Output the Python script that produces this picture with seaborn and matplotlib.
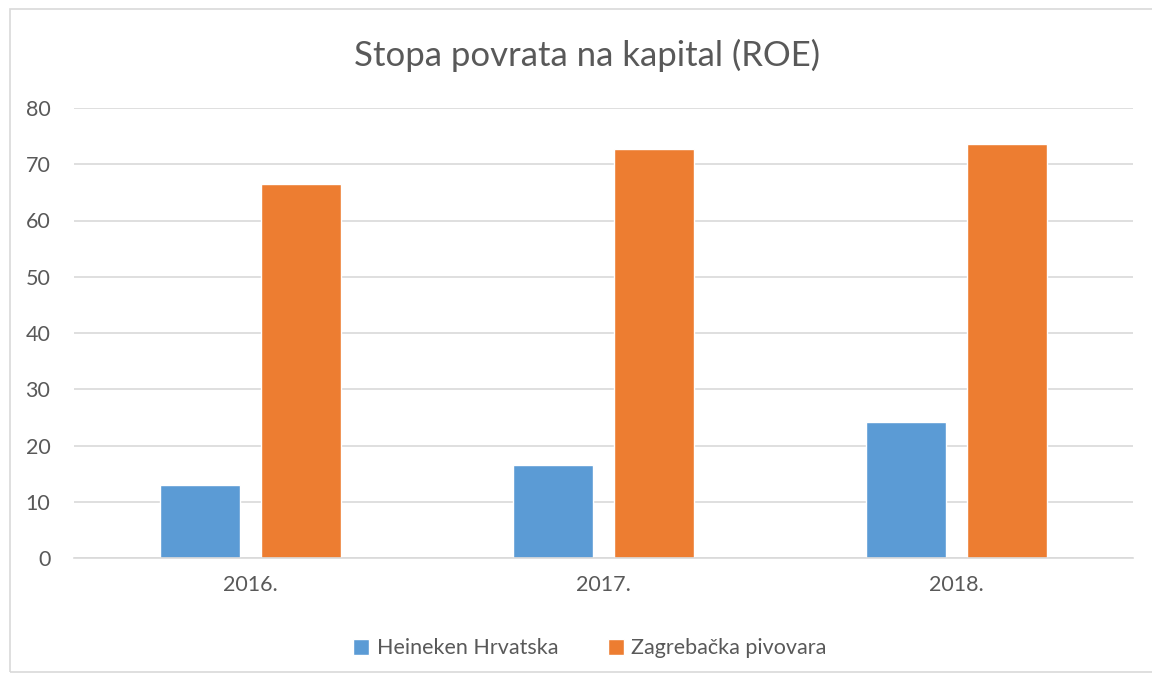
import pandas as pd
import matplotlib.pyplot as plt
import seaborn as sns
from matplotlib.patches import Rectangle

# data
years = ["2016.", "2017.", "2018."]
heineken = [13.0, 16.5, 24.2]
zagrebacka = [66.5, 72.7, 73.6]
series_names = ["Heineken Hrvatska", "Zagrebačka pivovara"]

df = pd.DataFrame({
    "godina": years * 2,
    "roe": heineken + zagrebacka,
    "tvrtka": [series_names[0]] * 3 + [series_names[1]] * 3,
})

sns.set_theme(style="white")
plt.rcParams['font.family'] = ['Lato', 'DejaVu Sans']

fig = plt.figure(figsize=(11.52, 6.75), dpi=100)
ax = fig.add_axes([74 / 1152, 117 / 675, (1133 - 74) / 1152, 450 / 675])

sns.barplot(data=df, x="godina", y="roe", hue="tvrtka",
            palette=["#5B9BD5", "#ED7D31"], width=0.567, gap=0.2,
            saturation=1, ax=ax, legend=True)

ax.set_ylim(0, 80)
ax.set_xlim(-0.5, 2.5)
ax.set_yticks(range(0, 81, 10))
ax.yaxis.grid(True, color="#D9D9D9", linewidth=1.2)
ax.set_axisbelow(True)
for s in ["top", "right", "left"]:
    ax.spines[s].set_visible(False)
ax.spines["bottom"].set_color("#D9D9D9")
ax.spines["bottom"].set_linewidth(1.2)
ax.tick_params(axis="both", length=0, labelsize=15.5, labelcolor="#595959")
ax.tick_params(axis="y", pad=17)
ax.tick_params(axis="x", pad=12)
ax.set_xlabel("")
ax.set_ylabel("")

fig.text(0.51, 0.918, "Stopa povrata na kapital (ROE)", ha="center", va="center",
         fontsize=25, color="#595959")

ax.legend(loc="upper center", bbox_to_anchor=(0.487, -0.135), ncol=2, frameon=False,
          fontsize=15.5, handlelength=0.75, handleheight=0.75, columnspacing=2.3,
          handletextpad=0.35, labelcolor="#595959")

# outer chart frame
fig.patches.append(Rectangle((10 / 1152, 3 / 675), 1.0, 663 / 675, transform=fig.transFigure,
                             fill=False, edgecolor="#D9D9D9", linewidth=1.2))

fig.savefig("out.png", dpi=100)
